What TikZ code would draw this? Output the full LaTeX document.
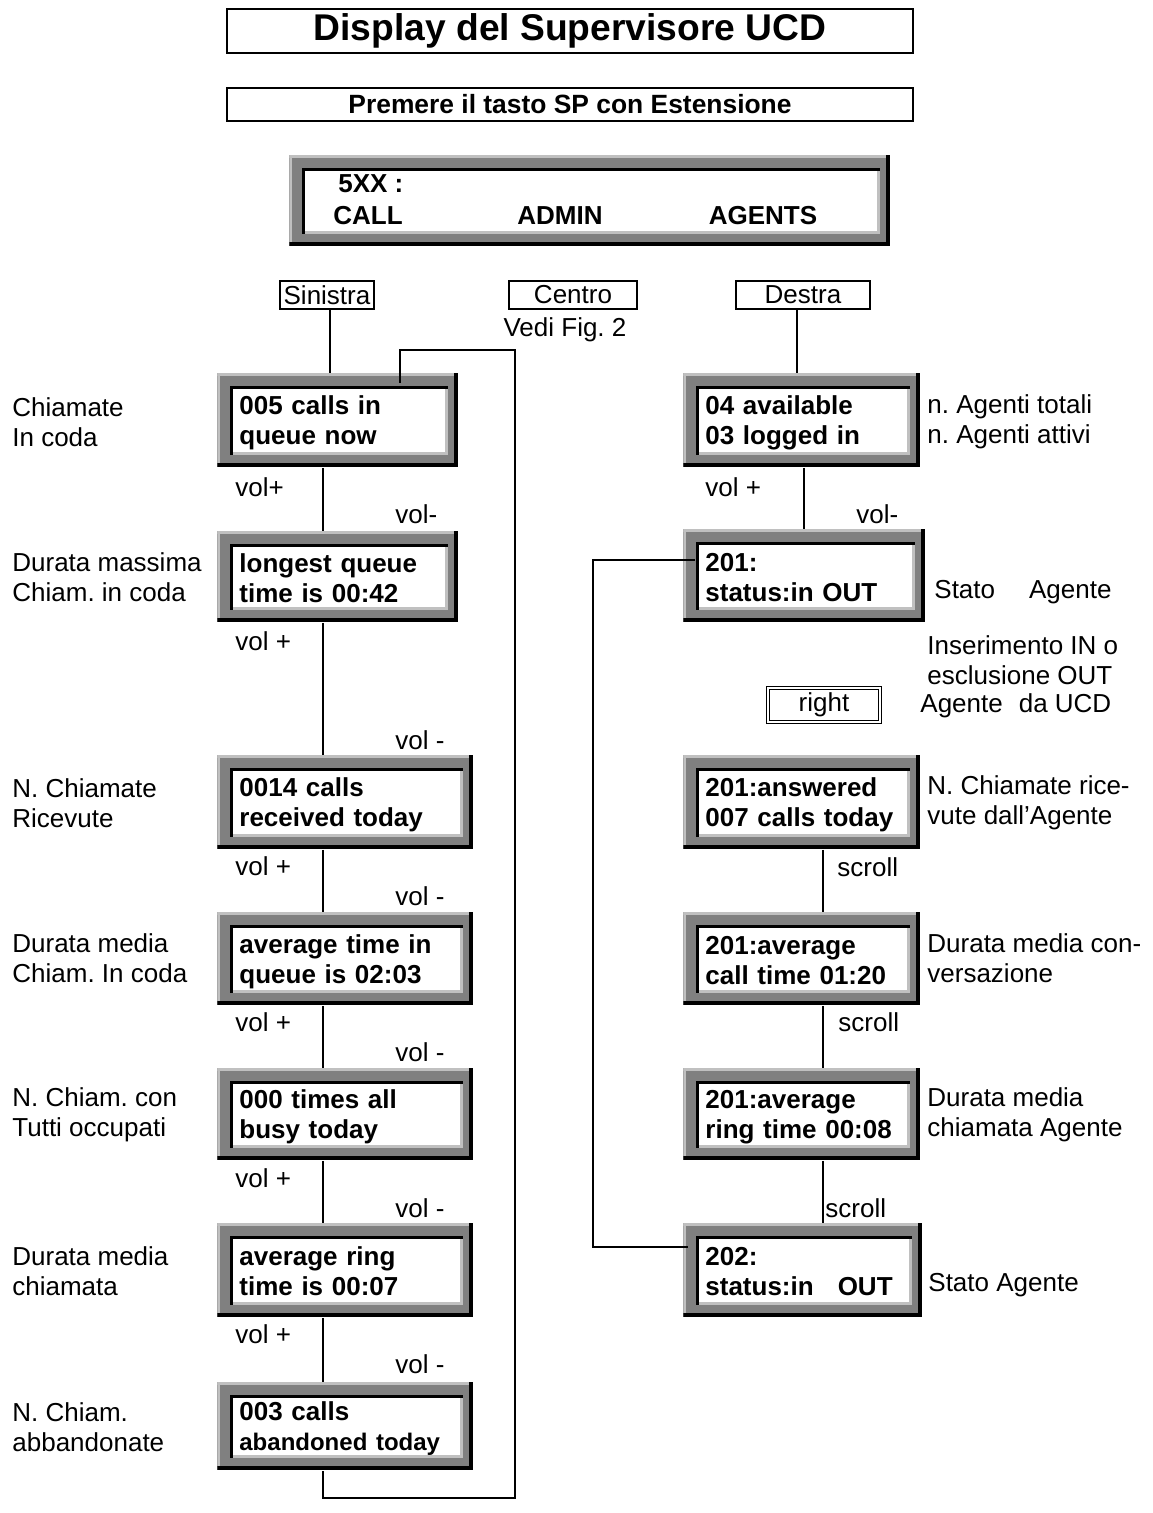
\documentclass[tikz,border=0pt]{standalone}
\usepackage{fontspec}
\setmainfont{Liberation Sans}
\usetikzlibrary{calc}
\definecolor{lcdgray}{HTML}{808080}
\definecolor{lcdlight}{HTML}{C0C0C0}
\frenchspacing

% bevelled frame of a display panel, drawn inside the node's own path
\newcommand\lcdbevel{%
  \coordinate (pnw) at (path picture bounding box.north west);
  \coordinate (pse) at (path picture bounding box.south east);
  \fill[lcdlight] (pnw) rectangle ($(pse|-pnw)+(0,3)$);
  \fill[lcdlight] (pnw) rectangle ($(pnw|-pse)+(3,0)$);
  \fill[black] ($(pnw|-pse)+(0,-4)$) rectangle (pse);
  \fill[black] ($(pse|-pnw)+(-4,0)$) rectangle (pse);
  \fill[white] ($(pnw)+(13,13)$) rectangle ($(pse)+(-10,-12)$);
  \fill[lcdlight] ($(pnw|-pse)+(13,-15)$) rectangle ($(pse)+(-10,-12)$);
  \fill[lcdlight] ($(pse|-pnw)+(-13,13)$) rectangle ($(pse)+(-10,-12)$);
  \fill[black] ($(pnw)+(13,13)$) rectangle ($(pse|-pnw)+(-10,16)$);
  \fill[black] ($(pnw)+(13,13)$) rectangle ($(pnw|-pse)+(16,-12)$);
}

\tikzset{
  lcd/.style={rectangle, fill=lcdgray, inner sep=0pt, anchor=north west,
    align=left, font=\bfseries\fontsize{13}{15}\selectfont,
    path picture={\lcdbevel}},
  lcdtxt/.style={inner sep=0pt, font=\bfseries\fontsize{13}{15}\selectfont},
  lbl/.style={anchor=west, inner sep=0pt, align=left,
    font=\fontsize{13}{15}\selectfont},
  hdr/.style={draw, line width=1.2pt, inner sep=0pt},
  tab/.style={draw, line width=0.8pt, inner sep=0pt, minimum height=14pt,
    font=\fontsize{13}{15}\selectfont},
  conn/.style={line width=0.9pt},
  backline/.style={line width=1.1pt},
}

% display panel given by its outer corners (left, top, right, bottom)
\newcommand\lcdbox[6]{%
  \pgfmathsetlengthmacro\lcdw{(#4-#2)*0.5}%
  \pgfmathsetlengthmacro\lcdh{(#5-#3)*0.5}%
  \pgfmathsetlengthmacro\lcdtw{(#4-#2-44)*0.5}%
  \node[lcd, minimum width=\lcdw, minimum height=\lcdh, text width=\lcdtw]
    (#1) at (#2,#3) {\rule{0pt}{12pt}#6\rule[-1.5pt]{0pt}{1.5pt}};%
}

\begin{document}
\begin{tikzpicture}[x=0.5pt, y=-0.5pt]
\fill[white] (0,0) rectangle (1152,1513);
\useasboundingbox (0,0) rectangle (1152,1513);

% headings
\node[hdr, minimum width=343pt, minimum height=22pt,
  font=\bfseries\fontsize{18.6}{20}\selectfont] (title) at (570,31)
  {Display del Supervisore UCD};
\node[hdr, minimum width=343pt, minimum height=16.5pt,
  font=\bfseries\fontsize{13.2}{15}\selectfont] (sub) at (570,104.5)
  {Premere il tasto SP con Estensione};

% main display
\node[lcd, minimum width=300.5pt, minimum height=45.5pt] (disp) at (289,155) {};
\node[lcdtxt, anchor=west] (d5xx) at (338,184) {5XX :};
\node[lcdtxt, anchor=west] (dcall) at (333,216) {CALL};
\node[lcdtxt] (dadmin) at (560,216) {ADMIN};
\node[lcdtxt] (dagents) at (763,216) {AGENTS};

% soft keys
\node[tab, minimum width=47pt] (sin) at (327,295) {Sinistra};
\node[tab, minimum width=64pt] (cen) at (573,295) {Centro};
\node[tab, minimum width=67pt] (des) at (803,295) {Destra};
\node[lbl, anchor=center] (vedi) at (565,330) {Vedi Fig. 2};

% left column: call statistics
\lcdbox{B1}{217}{373}{458}{467}{005 calls in\\queue now}
\lcdbox{B2}{217}{531}{458}{622}{longest queue\\time is 00:42}
\lcdbox{B3}{217}{755}{473}{849}{0014 calls\\received today}
\lcdbox{B4}{217}{912}{473}{1005}{average time in\\queue is 02:03}
\lcdbox{B5}{217}{1068}{473}{1160}{000 times all\\busy today}
\lcdbox{B6}{217}{1223}{473}{1317}{average ring\\time is 00:07}
\lcdbox{B7}{217}{1382}{473}{1470}{003 calls\\{\fontsize{12}{15}\selectfont abandoned today}}

\node[lbl] (t1) at (12,422) {Chiamate\\In coda};
\node[lbl] (t2) at (12,577) {Durata massima\\Chiam. in coda};
\node[lbl] (t3) at (12,803) {N. Chiamate\\Ricevute};
\node[lbl] (t4) at (12,958) {Durata media\\Chiam. In coda};
\node[lbl] (t5) at (12,1115) {N. Chiam. con\\Tutti occupati};
\node[lbl] (t6) at (12,1271) {Durata media\\chiamata};
\node[lbl] (t7) at (12,1427) {N. Chiam.\\abbandonate};

\node[lbl] (vp1) at (235,487) {vol+};
\node[lbl] (vm1) at (395,514) {vol-};
\node[lbl] (vp2) at (235,641) {vol +};
\node[lbl] (vm2) at (395,740) {vol -};
\node[lbl] (vp3) at (235,866) {vol +};
\node[lbl] (vm3) at (395,896) {vol -};
\node[lbl] (vp4) at (235,1022) {vol +};
\node[lbl] (vm4) at (395,1052) {vol -};
\node[lbl] (vp5) at (235,1178) {vol +};
\node[lbl] (vm5) at (395,1208) {vol -};
\node[lbl] (vp6) at (235,1334) {vol +};
\node[lbl] (vm6) at (395,1364) {vol -};

% right column: agent statistics
\lcdbox{R1}{683}{373}{920}{467}{04 available\\03 logged in}
\lcdbox{R2}{683}{529}{925}{622}{201:\\status:in OUT}
\lcdbox{R3}{683}{755}{920}{849}{201:answered\\007 calls today}
\lcdbox{R4}{683}{912}{920}{1005}{201:average\\call time 01:20}
\lcdbox{R5}{683}{1068}{920}{1160}{201:average\\ring time 00:08}
\lcdbox{R6}{683}{1223}{922}{1317}{202:\\status:in\hspace{12pt}OUT}

\node[lbl] (u1) at (927,422) {n. Agenti totali\\n. Agenti attivi};
\node[lbl] (u2) at (934,592) {Stato\hspace{17pt}Agente};
\node[lbl] (u3) at (927,660) {Inserimento IN o\\esclusione OUT};
\node[draw, double, line width=0.5pt, double distance=1.2pt, inner sep=0pt,
  minimum width=56pt, minimum height=17pt,
  font=\fontsize{13}{15}\selectfont] (rgt) at (824,705) {right};
\node[lbl] (u4) at (920,706) {Agente\hspace{8pt}da UCD};
\node[lbl] (u5) at (927,803) {N. Chiamate rice-\\vute dall’Agente};
\node[lbl] (u6) at (927,958) {Durata media con-\\versazione};
\node[lbl] (u7) at (927,1115) {Durata media\\chiamata Agente};
\node[lbl] (u8) at (928,1285) {Stato Agente};

\node[lbl] (vp7) at (705,487) {vol +};
\node[lbl] (vm7) at (856,514) {vol-};
\node[lbl] (sc1) at (837,867) {scroll};
\node[lbl] (sc2) at (838,1022) {scroll};
\node[lbl] (sc3) at (825,1208) {scroll};

% connectors
\coordinate (lx) at (323,0);
\coordinate (rx1) at (804,0);
\coordinate (rx2) at (823,0);
\draw[conn] ($(sin.south)+(3,0)$) -- ($(sin.south |- B1.north)+(3,0)$);
\draw[conn] ($(des.south)+(-6,0)$) -- ($(des.south |- R1.north)+(-6,0)$);
\foreach \a/\b in {B1/B2,B2/B3,B3/B4,B4/B5,B5/B6,B6/B7}
  \draw[conn] (lx |- \a.south) -- (lx |- \b.north);
\draw[conn] (rx1 |- R1.south) -- (rx1 |- R2.north);
\foreach \a/\b in {R3/R4,R4/R5,R5/R6}
  \draw[conn] (rx2 |- \a.south) -- (rx2 |- \b.north);

% return paths
\coordinate (la) at (400,350);
\coordinate (lb) at (515,350);
\coordinate (lc) at (515,1498);
\coordinate (ld) at (323,1498);
\draw[backline] ($(la |- B1.north)+(0,10)$) -- (la) -- (lb) -- (lc) -- (ld) -- (ld |- B7.south);
\coordinate (ra) at (593,560);
\coordinate (rb) at (593,1247);
\draw[backline] ($(R2.west |- ra)+(12,0)$) -- (ra) -- (rb) -- ($(R6.west |- rb)+(5,0)$);
\end{tikzpicture}
\end{document}
